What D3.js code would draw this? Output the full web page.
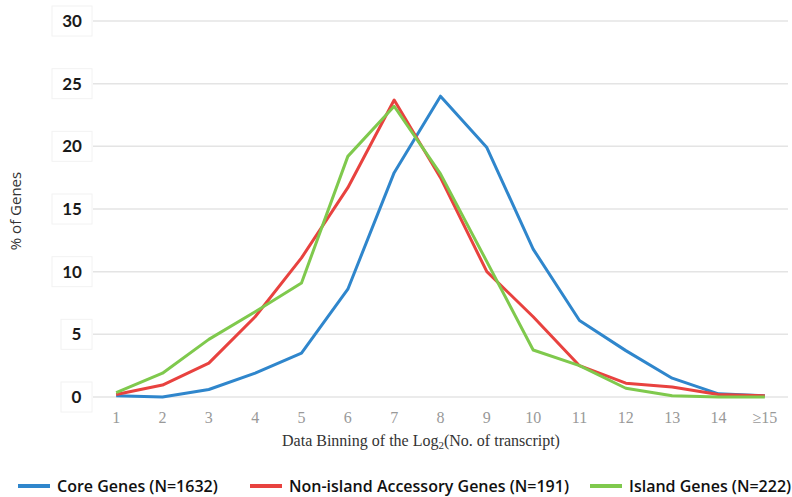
<!DOCTYPE html>
<html>
<head>
<meta charset="utf-8">
<script src="https://cdn.jsdelivr.net/npm/d3@7"></script>
<style>
  body { margin: 0; background: #fff; }
</style>
</head>
<body>
<script>
var svg_width = 792;
var svg_height = 497;

// bins along the x axis
var bins = ['1', '2', '3', '4', '5', '6', '7', '8', '9', '10', '11', '12', '13', '14', '\u226515'];
var yticks = [0, 5, 10, 15, 20, 25, 30];

var core = [0.1, 0.0, 0.6, 1.9, 3.5, 8.6, 17.9, 24.0, 19.9, 11.8, 6.1, 3.7, 1.5, 0.25, 0.1];
var nonIsland = [0.2, 0.95, 2.7, 6.4, 11.1, 16.7, 23.7, 17.5, 10.0, 6.4, 2.5, 1.1, 0.8, 0.2, 0.1];
var island = [0.35, 1.9, 4.6, 6.8, 9.1, 19.2, 23.2, 17.8, 10.8, 3.75, 2.5, 0.7, 0.1, 0.0, 0.0];

var seriesNames = ['Core Genes (N=1632)', 'Non-island Accessory Genes (N=191)', 'Island Genes (N=222)'];
var seriesColors = ['#2f86cc', '#e8423f', '#7fc94d'];
var seriesData = [core, nonIsland, island];

var svg = d3.select('body').append('svg')
            .attr('width', svg_width)
            .attr('height', svg_height);

var xscale = d3.scaleBand().domain(bins).range([93, 788]);
var yscale = d3.scaleLinear().domain([0, 30]).range([397, 21]);

// gridlines
svg.append('g').selectAll('line')
   .data(yticks)
   .enter().append('line')
   .attr('x1', 93).attr('x2', 788)
   .attr('y1', function(d) { return yscale(d); })
   .attr('y2', function(d) { return yscale(d); })
   .attr('stroke', '#e4e4e4')
   .attr('stroke-width', 1.5);

// y labels in little white boxes
var ylab = svg.append('g').selectAll('g')
   .data(yticks)
   .enter().append('g')
   .attr('transform', function(d) { return 'translate(0,' + yscale(d) + ')'; });

ylab.append('rect')
   .attr('x', function(d) { return d >= 10 ? 52 : 61; })
   .attr('width', function(d) { return d >= 10 ? 40 : 31; })
   .attr('y', -15).attr('height', 30)
   .attr('fill', '#fff')
   .attr('stroke', '#f2f2f2');

ylab.append('text')
   .attr('x', function(d) { return d >= 10 ? 72 : 76.5; })
   .attr('y', 6)
   .attr('text-anchor', 'middle')
   .style('font-family', 'Lato, sans-serif')
   .style('font-size', '17px')
   .style('font-weight', 'bold')
   .attr('fill', '#1a1a1a')
   .text(function(d) { return d; });

// x axis labels
var xaxis = d3.axisBottom(xscale).tickSize(0).tickPadding(0);
var xg = svg.append('g')
    .attr('transform', 'translate(0, 410)')
    .call(xaxis);
xg.select('.domain').remove();
xg.selectAll('text')
   .attr('dy', '0.8em')
   .style('font-family', '"Liberation Serif", serif')
   .style('font-size', '16px')
   .attr('fill', '#999');

// x title
var xt = svg.append('text')
   .attr('x', 421).attr('y', 446)
   .attr('text-anchor', 'middle')
   .style('font-family', '"Liberation Serif", serif')
   .style('font-size', '16px')
   .attr('fill', '#333');
xt.append('tspan').text('Data Binning of the Log');
xt.append('tspan').attr('dy', 3).style('font-size', '11px').text('2');
xt.append('tspan').attr('dy', -3).text('(No. of transcript)');

// y title
svg.append('text')
   .attr('transform', 'translate(21, 211) rotate(-90)')
   .attr('text-anchor', 'middle')
   .style('font-family', '"Open Sans", sans-serif')
   .style('font-size', '15px')
   .attr('fill', '#333')
   .text('% of Genes');

// lines
var line = d3.line()
   .x(function(d, i) { return xscale(bins[i]) + xscale.bandwidth() / 2; })
   .y(function(d) { return yscale(d); });

svg.append('g').selectAll('path')
   .data(seriesData)
   .enter().append('path')
   .attr('d', line)
   .attr('fill', 'none')
   .attr('stroke', function(d, i) { return seriesColors[i]; })
   .attr('stroke-width', 3)
   .attr('stroke-linejoin', 'round');

// legend
var legX = [18, 250, 590];
var leg = svg.append('g').selectAll('g')
   .data(seriesNames)
   .enter().append('g')
   .attr('transform', function(d, i) { return 'translate(' + legX[i] + ', 486)'; });

leg.append('line')
   .attr('x1', 0).attr('x2', 32)
   .attr('stroke', function(d, i) { return seriesColors[i]; })
   .attr('stroke-width', 4);

leg.append('text')
   .attr('x', 39).attr('y', 6)
   .style('font-family', '"Open Sans", sans-serif')
   .style('font-size', '16px')
   .style('font-weight', 600)
   .attr('fill', '#111')
   .text(function(d) { return d; });
</script>
</body>
</html>
